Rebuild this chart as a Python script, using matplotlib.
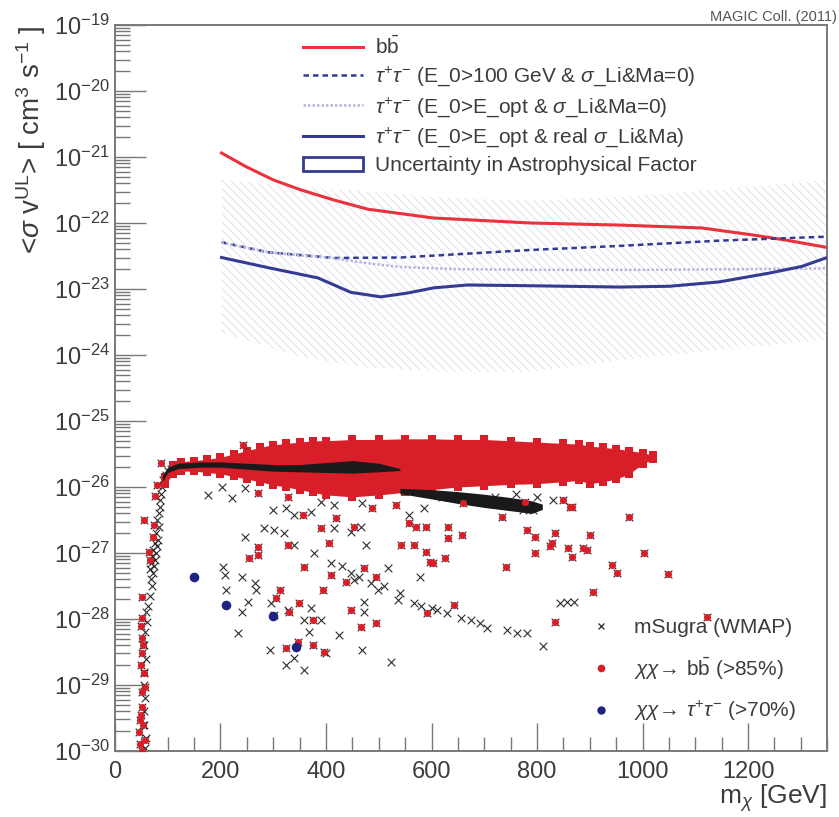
import numpy as np
import matplotlib
matplotlib.use("Agg")
import matplotlib.pyplot as plt
from matplotlib.lines import Line2D
from matplotlib.patches import Patch
from matplotlib.ticker import FixedLocator, MultipleLocator, LogLocator, NullFormatter

plt.rcParams["font.family"] = ["Liberation Sans", "DejaVu Sans"]
plt.rcParams["mathtext.fontset"] = "custom"
plt.rcParams["mathtext.rm"] = "Liberation Sans"
plt.rcParams["mathtext.it"] = "Liberation Sans:italic"
plt.rcParams["mathtext.bf"] = "Liberation Sans:bold"
plt.rcParams["hatch.linewidth"] = 0.6

# ---- upper-limit curves: m_chi [GeV] vs <sigma v> [cm^3 s^-1] ----
BB_X = [202, 249, 300, 353, 415, 479, 604, 787, 957, 1113, 1208, 1272, 1347]
BB_Y = [1.15e-21, 7.1e-22, 4.5e-22, 3.16e-22, 2.23e-22, 1.62e-22, 1.19e-22, 1.0e-22,
        9.3e-23, 8.4e-23, 6.6e-23, 5.5e-23, 4.3e-23]
TAU100_X = [202, 291, 415, 542, 787, 957, 1145, 1347]
TAU100_Y = [5.1e-23, 3.6e-23, 2.95e-23, 3.0e-23, 3.9e-23, 4.5e-23, 5.4e-23, 6.2e-23]
TAUOPT_X = [202, 291, 353, 404, 480, 542, 650, 787, 1000, 1200, 1347]
TAUOPT_Y = [5.1e-23, 3.6e-23, 3.2e-23, 3.0e-23, 2.45e-23, 2.15e-23, 2.0e-23, 1.95e-23,
            1.95e-23, 2.0e-23, 2.05e-23]
TAUREAL_X = [202, 291, 385, 447, 504, 555, 604, 668, 787, 957, 1051, 1145, 1240, 1302, 1347]
TAUREAL_Y = [3.0e-23, 2.1e-23, 1.47e-23, 8.9e-24, 7.6e-24, 8.7e-24, 1.04e-23, 1.15e-23,
             1.12e-23, 1.07e-23, 1.1e-23, 1.28e-23, 1.74e-23, 2.2e-23, 2.95e-23]
# uncertainty in the astrophysical factor
BAND_X = [202, 353, 480, 620, 787, 957, 1145, 1347]
BAND_UP = [4.5e-22, 3.5e-22, 3.0e-22, 2.4e-22, 2.2e-22, 2.5e-22, 3.2e-22, 4.5e-22]
BAND_LO = [2.2e-24, 9.3e-25, 6.5e-25, 5.6e-25, 5.5e-25, 8.3e-25, 1.2e-24, 1.7e-24]

# ---- mSugra scan, log10(<sigma v>) ----
# dense bb-bar cloud (envelope)
CLOUD_X = [95, 110, 125, 150, 175, 200, 225, 250, 275, 300, 325, 350, 375, 400, 450, 500,
           550, 600, 650, 700, 750, 800, 850, 880, 900, 925, 950, 975, 1000, 1020]
CLOUD_UP = [-25.85, -25.66, -25.62, -25.60, -25.58, -25.55, -25.50, -25.45, -25.40, -25.36,
            -25.34, -25.32, -25.30, -25.30, -25.28, -25.28, -25.27, -25.27, -25.28, -25.28,
            -25.30, -25.32, -25.34, -25.35, -25.38, -25.40, -25.42, -25.45, -25.48, -25.52]
CLOUD_LO = [-25.95, -25.80, -25.76, -25.76, -25.78, -25.80, -25.84, -25.88, -25.92, -25.97,
            -26.00, -26.04, -26.08, -26.12, -26.15, -26.12, -26.08, -26.04, -26.00, -25.98,
            -25.96, -25.95, -25.92, -25.90, -25.95, -25.92, -25.88, -25.80, -25.65, -25.58]
# black ridge inside the cloud and black tail below it
RIDGE_X = [90, 100, 120, 160, 200, 250, 300, 350, 400, 450, 500, 540]
RIDGE_UP = [-25.82, -25.70, -25.64, -25.62, -25.62, -25.64, -25.66, -25.66, -25.63, -25.60,
            -25.64, -25.72]
RIDGE_LO = [-25.92, -25.78, -25.72, -25.70, -25.70, -25.73, -25.76, -25.77, -25.78, -25.79,
            -25.77, -25.75]
TAIL_X = [540, 600, 650, 700, 750, 790, 810]
TAIL_UP = [-26.02, -26.04, -26.07, -26.11, -26.16, -26.21, -26.26]
TAIL_LO = [-26.10, -26.18, -26.25, -26.31, -26.36, -26.40, -26.34]

MS_X = [57, 58, 56, 55, 57, 55, 56, 58, 55, 57, 60, 58, 62, 66, 70, 68, 72, 66, 74, 68, 76,
        70, 78, 72, 80, 75, 82, 78, 83, 80, 83, 85, 86, 88, 90, 92, 96, 100, 106, 112, 120, 130,
        177, 221, 246, 202, 300, 325, 340, 372, 391, 415, 469, 557, 246, 283, 302, 321, 340,
        378, 410, 447, 453, 463, 415, 447, 466, 475, 517, 498, 536, 566, 472, 472, 205, 208,
        211, 240, 265, 268, 252, 240, 234, 296, 302, 328, 372, 359, 391, 368, 293, 325, 340,
        359, 425, 469, 400, 523, 857, 870, 843, 811, 762, 781, 743, 705, 692, 674, 655, 630,
        611, 579, 585, 792, 774, 430, 485, 510, 540, 580, 600, 620, 680, 720, 760, 800, 830]
MS_Y = [-29.95, -29.8, -29.6, -29.4, -29.2, -29.0, -28.8, -28.6, -28.4, -28.2, -28.05, -27.9,
        -27.8, -27.65, -27.5, -27.4, -27.3, -27.25, -27.2, -27.15, -27.1, -27.05, -27.0, -26.95,
        -26.9, -26.85, -26.8, -26.7, -26.6, -26.5, -26.4, -26.3, -26.2, -26.1, -26.0, -25.9,
        -25.82, -25.76, -25.72, -25.69, -25.67, -25.66,
        -26.12, -26.17, -26.02, -26.0, -26.35, -26.32, -26.42, -26.38, -26.23, -26.27, -26.24,
        -26.42, -26.76, -26.62, -26.65, -26.7, -26.88, -27.0, -27.15, -27.3, -27.41, -27.36,
        -26.62, -26.68, -26.6, -26.88, -27.23, -27.56, -27.71, -27.76, -27.74, -27.89, -27.21,
        -27.33, -27.56, -27.36, -27.45, -27.56, -27.74, -27.89, -28.21, -27.76, -27.94, -27.86,
        -27.83, -28.02, -28.02, -28.2, -28.47, -28.7, -28.59, -28.77, -28.24, -28.47, -28.52,
        -28.65, -27.74, -27.74, -27.76, -28.41, -28.21, -28.21, -28.17, -28.14, -28.06, -28.02,
        -27.98, -27.91, -27.86, -27.36, -26.32, -26.35, -26.35, -27.2, -27.45, -27.5, -27.6,
        -27.8, -27.83, -26.15, -26.2, -26.15, -26.1, -26.15, -26.2]

BB_PX = [87, 79, 76, 55, 74, 73, 64, 66, 51, 51, 51, 51, 55, 57, 51, 48, 45, 57, 50, 53, 49,
         52, 50, 54, 48, 52,
         243, 271, 328, 356, 419, 391, 453, 488, 532, 557, 406, 328, 271, 255, 271, 359, 410,
         438, 472, 494, 394, 312, 306, 349, 330, 447, 466, 494, 375, 375, 325, 347, 396, 542,
         566, 570, 589, 589, 602, 626, 632, 632, 658, 598, 642, 592, 734, 742, 781, 796, 796,
         834, 828, 824, 858, 866, 887, 900, 866, 849, 975, 942, 951, 906, 834, 1002, 1049,
         1123, 660, 777, 862, 894]
BB_PY = [-25.64, -25.97, -26.14, -26.5, -26.58, -26.76, -26.98, -27.1, -27.67, -27.98, -28.29,
         -28.52, -28.82, -29.03, -29.33, -29.53, -29.71, -29.83, -28.1, -28.4, -28.7, -29.1,
         -29.45, -29.6, -29.9, -30.0,
         -25.36, -26.09, -26.15, -26.42, -26.47, -26.62, -26.6, -26.32, -26.27, -26.55, -26.85,
         -26.88, -26.91, -27.08, -27.03, -27.21, -27.33, -27.44, -27.23, -27.36, -27.56, -27.56,
         -27.68, -27.76, -27.89, -27.86, -28.12, -28.06, -28.02, -28.39, -28.44, -28.35, -28.5,
         -26.88, -26.88, -26.6, -26.6, -26.98, -27.15, -27.08, -26.6, -26.77, -26.73, -27.14,
         -27.79, -27.91, -26.45, -27.21, -26.65, -26.76, -27.0, -26.7, -26.85, -26.9, -26.92,
         -27.06, -26.92, -26.73, -26.3, -26.2, -26.45, -27.18, -27.3, -27.59, -28.05, -27.0,
         -27.32, -27.97, -26.24, -26.22, -26.3, -26.95]

TAU_PX = [149, 211, 300, 343]
TAU_PY = [-27.36, -27.79, -27.95, -28.42]

RED_L = "#e8323c"
RED_P = "#d81e28"
NAVY = "#353b92"
LIGHT = "#b4b7da"
TXT = "#3c3c3c"

fig = plt.figure(figsize=(8.39, 8.17), dpi=100)
ax = fig.add_axes([0.137, 0.0808, 0.849, 0.8886])
ax.set_yscale("log")
ax.set_xlim(0, 1350)
ax.set_ylim(1e-30, 1e-19)

# uncertainty band
ax.fill_between(BAND_X, BAND_LO, BAND_UP, facecolor="none", edgecolor="#dcdce9",
                hatch="\\\\\\\\", lw=0, zorder=1)

# mSugra points
ax.scatter(MS_X, 10.0 ** np.array(MS_Y), marker="x", s=30, c="#2a2a2a", lw=0.8, zorder=2)
# dense bb cloud
cx = np.array(CLOUD_X)
ax.fill_between(cx, 10.0 ** np.array(CLOUD_LO), 10.0 ** np.array(CLOUD_UP),
                color=RED_P, lw=0, zorder=3)
ax.scatter(np.r_[cx, cx], 10.0 ** np.r_[CLOUD_UP, CLOUD_LO], marker="s", s=30, c=RED_P,
           lw=0, zorder=3)
ax.fill_between(RIDGE_X, 10.0 ** np.array(RIDGE_LO), 10.0 ** np.array(RIDGE_UP),
                color="#1a1a1a", lw=0, zorder=4)
ax.fill_between(TAIL_X, 10.0 ** np.array(TAIL_LO), 10.0 ** np.array(TAIL_UP),
                color="#1a1a1a", lw=0, zorder=4)
# bb-dominated points drawn over their mSugra cross
ax.scatter(BB_PX, 10.0 ** np.array(BB_PY), marker="x", s=30, c="#2a2a2a", lw=0.8, zorder=5)
ax.scatter(BB_PX, 10.0 ** np.array(BB_PY), marker="o", s=26, c=RED_P, lw=0, zorder=5)
ax.scatter(TAU_PX, 10.0 ** np.array(TAU_PY), marker="o", s=48, c="#1d2380", lw=0, zorder=7)

# limit curves
ax.plot(BB_X, BB_Y, color=RED_L, lw=2.2, zorder=6)
ax.plot(TAU100_X, TAU100_Y, color=NAVY, lw=1.8, ls=(0, (2.2, 1.6)), zorder=6)
ax.plot(TAUOPT_X, TAUOPT_Y, color=LIGHT, lw=1.8, ls=(0, (1, 0.8)), zorder=6)
ax.plot(TAUREAL_X, TAUREAL_Y, color=NAVY, lw=2.2, zorder=6)

# axes styling
ax.xaxis.set_major_locator(MultipleLocator(200))
ax.xaxis.set_minor_locator(MultipleLocator(50))
ax.yaxis.set_major_locator(FixedLocator([10.0 ** e for e in range(-30, -18)]))
ax.yaxis.set_minor_locator(LogLocator(base=10, subs=np.arange(2, 10), numticks=30))
ax.yaxis.set_minor_formatter(NullFormatter())
ax.tick_params(which="both", direction="in", top=False, right=False, colors="#777777",
               labelcolor=TXT, labelsize=17, width=1.0)
ax.tick_params(which="major", length=20)
ax.tick_params(which="minor", length=10)
ax.tick_params(axis="y", which="major", length=22)
ax.tick_params(axis="y", which="minor", length=11)
ax.tick_params(axis="x", pad=7)
for s in ax.spines.values():
    s.set_color("#7a7a7a")
    s.set_linewidth(1.4)

ax.set_xlabel(r"m$_{\chi}$ [GeV]", loc="right", fontsize=19, color=TXT, labelpad=0)
ax.set_ylabel(r"<$\sigma$ v$^{\mathrm{UL}}$> [ cm$^{3}$ s$^{-1}$ ]", loc="top", fontsize=20,
              color=TXT, labelpad=4)
fig.text(0.997, 0.979, "MAGIC Coll. (2011)", ha="right", va="center", fontsize=10.5,
         color="#555555")

h1 = [Line2D([], [], color=RED_L, lw=2.2),
      Line2D([], [], color=NAVY, lw=1.8, ls=(0, (2.2, 1.6))),
      Line2D([], [], color=LIGHT, lw=1.8, ls=(0, (1, 0.8))),
      Line2D([], [], color=NAVY, lw=2.2),
      Patch(facecolor="white", edgecolor=NAVY, lw=2)]
l1 = [r"$\mathrm{b\bar{b}}$",
      r"$\tau^{+}\tau^{-}$ (E_0>100 GeV & $\sigma$_Li&Ma=0)",
      r"$\tau^{+}\tau^{-}$ (E_0>E_opt & $\sigma$_Li&Ma=0)",
      r"$\tau^{+}\tau^{-}$ (E_0>E_opt & real $\sigma$_Li&Ma)",
      "Uncertainty in Astrophysical Factor"]
leg1 = ax.legend(h1, l1, loc="upper left", bbox_to_anchor=(303 / 839, 1 - 35 / 817),
                 bbox_transform=fig.transFigure, frameon=False, fontsize=15, labelspacing=0.33,
                 handlelength=2.9, handletextpad=0.55, borderpad=0, borderaxespad=0,
                 labelcolor=TXT)
ax.add_artist(leg1)

h2 = [Line2D([], [], ls="", marker="x", ms=5, mew=0.9, color="#2a2a2a"),
      Line2D([], [], ls="", marker="o", ms=4.5, color=RED_P),
      Line2D([], [], ls="", marker="o", ms=5, color="#1d2380")]
l2 = ["mSugra (WMAP)",
      r"$\chi\chi\!\rightarrow\!$ $\mathrm{b\bar{b}}$ (>85%)",
      r"$\chi\chi\!\rightarrow\!$ $\tau^{+}\tau^{-}$ (>70%)"]
ax.legend(h2, l2, loc="upper left", bbox_to_anchor=(588 / 839, 1 - 618 / 817),
          bbox_transform=fig.transFigure, frameon=False, fontsize=15, labelspacing=0.85,
          handlelength=1.2, handletextpad=1.0, borderpad=0, borderaxespad=0, labelcolor=TXT)

fig.savefig("out.png", dpi=100)
